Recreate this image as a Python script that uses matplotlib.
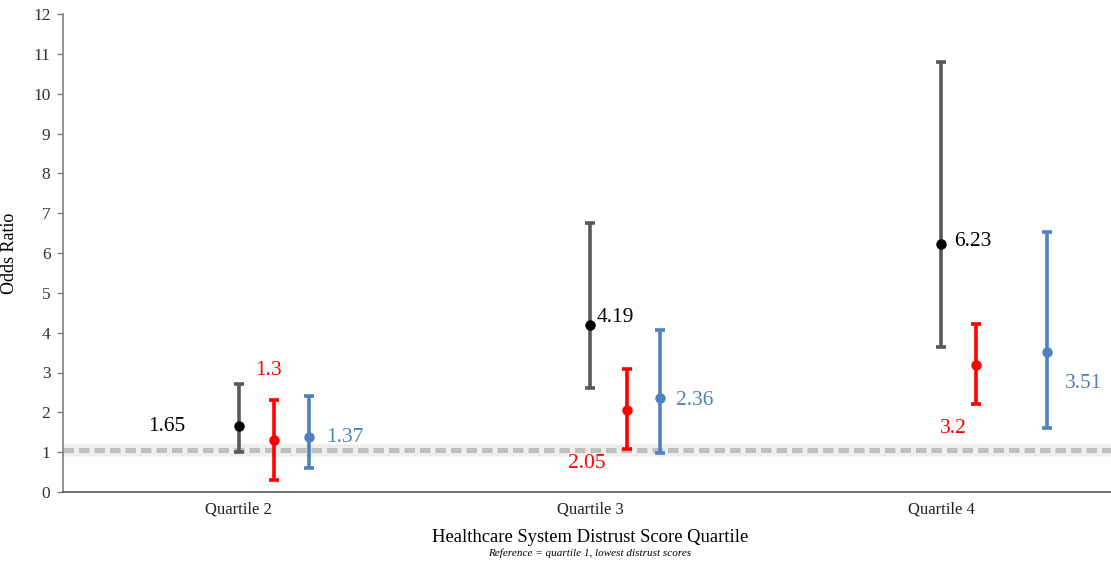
import matplotlib.pyplot as plt
import numpy as np

plt.rcParams['font.family'] = ['Liberation Serif', 'DejaVu Serif']

quartiles = ["Quartile 2", "Quartile 3", "Quartile 4"]

# odds ratio, lower CI, upper CI for each model
black_or = [1.65, 4.19, 6.23]
black_lo = [1.00, 2.61, 3.64]
black_hi = [2.71, 6.76, 10.80]

red_or = [1.30, 2.05, 3.20]
red_lo = [0.30, 1.07, 2.20]
red_hi = [2.31, 3.08, 4.21]

blue_or = [1.37, 2.36, 3.51]
blue_lo = [0.60, 0.98, 1.60]
blue_hi = [2.42, 4.06, 6.52]

reference_or = 1.05

# horizontal placement of each series inside a quartile group
black_shift = [0.0, 0.0, 0.0]
red_shift = [0.10, 0.105, 0.10]
blue_shift = [0.20, 0.20, 0.30]

# label offsets (pixels) relative to the point, plus alignment
black_lab = [(-53, 0, "right"), (7, 8, "left"), (13, 2, "left")]
red_lab = [(-5, 70, "center"), (-40, -53, "center"), (-23, -64, "center")]
blue_lab = [(17, 0, "left"), (16, -3, "left"), (18, -31, "left")]

fig = plt.figure(figsize=(11.11, 5.63), dpi=100)
ax = fig.add_axes([63 / 1111, 1 - 492 / 563, 1054 / 1111, 478 / 563])

x = np.arange(len(quartiles))

# reference line with soft shadow
ax.axhline(reference_or, color="#e3e3e3", lw=9, alpha=0.6, zorder=1)
ax.axhline(reference_or, color="#bfbfbf", lw=3.6, dashes=(2.1, 1.0), zorder=1)

series = [
    (black_or, black_lo, black_hi, black_shift, black_lab, "#595959", "black", "black"),
    (red_or, red_lo, red_hi, red_shift, red_lab, "#ff0000", "#ff0000", "#ff0000"),
    (blue_or, blue_lo, blue_hi, blue_shift, blue_lab, "#4f81bd", "#4f81bd", "#4f81bd"),
]

for vals, lo, hi, shift, labs, ecol, mcol, tcol in series:
    vals = np.array(vals)
    xs = x + np.array(shift)
    yerr = [vals - np.array(lo), np.array(hi) - vals]
    ax.errorbar(xs, vals, yerr=yerr, fmt="o", color=mcol, ecolor=ecol,
                elinewidth=2.6, capsize=3.5, capthick=2.6, markersize=6.5, zorder=3)
    for xi, v, (dx, dy, ha) in zip(xs, vals, labs):
        ax.annotate(f"{v:g}", (xi, v), xytext=(dx * 0.72, dy * 0.72),
                    textcoords="offset points", ha=ha, va="center",
                    fontsize=15.5, color=tcol)

ax.set_xlim(-0.5, 2.5)
ax.set_ylim(0, 12)
ax.set_yticks(range(0, 13))
ax.set_xticks(x)
ax.set_xticklabels(quartiles)
ax.tick_params(axis="x", length=0, labelsize=12, pad=7, labelcolor="#222222")
ax.tick_params(axis="y", length=4, width=1, color="#7f7f7f", labelsize=12.5,
               labelcolor="#333333", pad=5)
for s in ["top", "right"]:
    ax.spines[s].set_visible(False)
ax.spines["left"].set_color("#7f7f7f")
ax.spines["bottom"].set_color("#595959")
ax.spines["left"].set_linewidth(1.2)
ax.spines["bottom"].set_linewidth(1.2)

ax.set_ylabel("Odds Ratio", fontsize=13)
ax.yaxis.set_label_coords((18 - 63) / 1054, 0.5)
fig.text(590 / 1111, 1 - 537 / 563, "Healthcare System Distrust Score Quartile",
         ha="center", va="center", fontsize=13.4)
fig.text(590 / 1111, 1 - 553 / 563, "Reference = quartile 1, lowest distrust scores",
         ha="center", va="center", fontsize=8, style="italic")

fig.savefig("out.png", dpi=100)
